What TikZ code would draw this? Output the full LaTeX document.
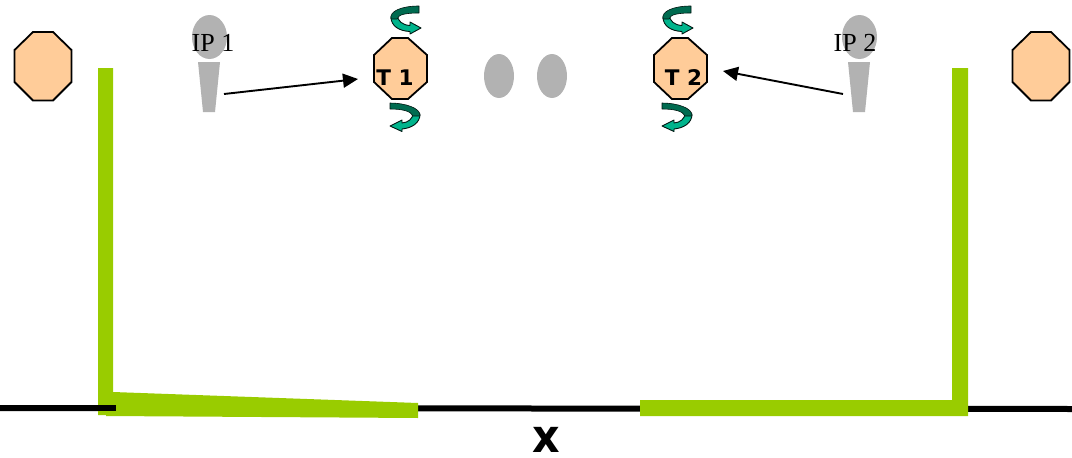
\documentclass[tikz,border=0pt]{standalone}
\usepackage{fontspec}
\setmainfont{Liberation Serif}
\newfontfamily\boldfam[Scale=1]{DejaVu Sans Bold}
\usetikzlibrary{arrows.meta}
\definecolor{grn}{HTML}{99CC00}
\definecolor{peach}{HTML}{FFCC99}
\definecolor{gry}{HTML}{B2B2B2}
\definecolor{tealD}{HTML}{006B50}
\definecolor{tealL}{HTML}{00B48C}
\tikzset{
  octo/.style={draw=black,fill=peach,line width=1.8pt,line join=miter},
  gr/.style={fill=gry,draw=none},
  bar/.style={fill=grn,draw=none},
  conn/.style={draw=black,line width=1.9pt,-{Triangle[length=15pt,width=14pt]},shorten >=0pt},
  iplab/.style={font=\fontsize{26}{26}\selectfont,inner sep=0pt,anchor=base},
  tlab/.style={font=\boldfam\fontsize{21.5}{21.5}\selectfont,inner sep=0pt,anchor=base},
  spin/.pic={
    \fill[tealL,draw=black!80!tealD,line width=.9pt,line join=round] (1,12) .. controls (1,21) and (9,26) .. (20,26.5) -- (20,29) -- (31,23) -- (20,17) -- (20,20.5) .. controls (12,20) and (8,16) .. (7,10) -- cycle;
    \fill[tealD,draw=black!80!tealD,line width=.6pt,line join=round] (29,1) -- (29,8) .. controls (18,8) and (8,9) .. (7,14) -- (1,14) .. controls (-1,6) and (12,1) .. (29,1) -- cycle;
  },
  spinb/.pic={
    \fill[tealL,draw=black!80!tealD,line width=.9pt,line join=round] (30,12) .. controls (30,21) and (22,26) .. (12,27) -- (12,29.5) -- (0,24) -- (12,18) -- (12,21) .. controls (18,20.5) and (23,17) .. (23,11) -- cycle;
    \fill[tealD,draw=black!80!tealD,line width=.6pt,line join=round] (0,1) -- (0,7) .. controls (12,7) and (21,9) .. (23,14) -- (30,14) .. controls (31,6) and (15,1) .. (0,1) -- cycle;
  }
}
\begin{document}
\begin{tikzpicture}[x=1pt,y=-1pt]
\useasboundingbox (0,0) rectangle (1072,458);
% ground line
\coordinate (gl) at (0,408); \coordinate (gm) at (116,408); \coordinate (gr) at (1072,409);
\draw[line width=6pt,black] (gl) -- (gr);
% green profiles
\fill[bar] (98,68) -- (113,68) -- (113,392) -- (418,403) -- (418,418) -- (106,416) -- (106,415) -- (98,415) -- cycle;
\fill[bar] (952,68) -- (968,68) -- (968,416) -- (640,416) -- (640,400) -- (952,400) -- cycle;
\draw[line width=6pt,black] (gl) -- (gm);
% outer octagons
\path[octo] (33,32) -- (53,32) -- (71.5,50) -- (71.5,82) -- (53,100.5) -- (33,100.5) -- (14.5,82) -- (14.5,50) -- cycle;
\path[octo] (1031,32) -- (1051,32) -- (1069.5,50) -- (1069.5,82) -- (1051,100.5) -- (1031,100.5) -- (1012.5,82) -- (1012.5,50) -- cycle;
% T octagons
\path[octo] (392,38) -- (408,38) -- (427,55) -- (427,82) -- (408,99) -- (392,99) -- (374,82) -- (374,55) -- cycle;
\path[octo] (672,38) -- (688,38) -- (707,55) -- (707,82) -- (688,99) -- (672,99) -- (654,82) -- (654,55) -- cycle;
\node[tlab] (lt1) at (395,85) {T 1};
\node[tlab] (lt2) at (683.5,85) {T 2};
% microphones
\fill[gr] (209.5,37) ellipse (17.5 and 22);
\fill[gr] (198,62) -- (220,62) -- (215,112) -- (203,112) -- cycle;
\fill[gr] (859.5,37) ellipse (17.5 and 22);
\fill[gr] (848,62) -- (870,62) -- (865,112) -- (853,112) -- cycle;
\fill[gr] (499,76) ellipse (15 and 22);
\fill[gr] (552,76) ellipse (15 and 22);
\node[iplab] (ip1) at (213,51.5) {IP 1};
\node[iplab] (ip2) at (855,51.5) {IP 2};
% arrows
\coordinate (a1) at (224,94); \coordinate (b1) at (358,79);
\coordinate (a2) at (843,94); \coordinate (b2) at (723,71);
\draw[conn] (a1) -- (b1);
\draw[conn] (a2) -- (b2);
% spin arrows
\pic at (390,5) {spin};
\pic at (662,5) {spin};
\pic at (390,102) {spinb};
\pic at (662,102) {spinb};
% x
\node[inner sep=0pt,anchor=base,xscale=.93] (xl) at (546,452) {\boldfam\fontsize{46}{46}\selectfont x};
\end{tikzpicture}
\end{document}
